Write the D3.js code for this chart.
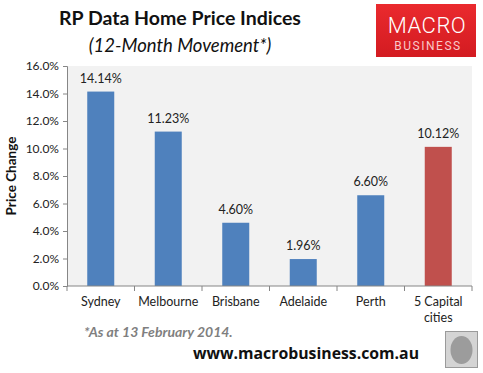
<!DOCTYPE html>
<html>
<head>
<meta charset="utf-8">
<script src="https://cdn.jsdelivr.net/npm/d3@7"></script>
<style>
  body { margin: 0; background: #fff; }
  svg text { font-family: Lato, "Open Sans", sans-serif; }
</style>
</head>
<body>
<div class="chart"></div>
<script>
// DATA ------------------------------------
const cities = ["Sydney", "Melbourne", "Brisbane", "Adelaide", "Perth", "5 Capital cities"];
const movement = [14.14, 11.23, 4.6, 1.96, 6.6, 10.12];
const yTicks = [0, 2, 4, 6, 8, 10, 12, 14, 16];

// CHART INIT ------------------------------
const totalWidth = 483, totalHeight = 373;
const margin = { top: 66, left: 67, right: 11, bottom: 87 };
const width = totalWidth - margin.left - margin.right,
  height = totalHeight - margin.top - margin.bottom;

const root = d3.select(".chart").append("svg")
  .attr("width", totalWidth)
  .attr("height", totalHeight);

const svg = root.append("g")
  .attr("transform", `translate(${margin.left},${margin.top})`);

const xScale = d3.scaleBand().domain(cities).range([0, width]).paddingInner(0.6).paddingOuter(0.3);
const yScale = d3.scaleLinear().domain([0, 16]).range([height, 0]);

// plot background
svg.append("rect")
  .attr("width", width).attr("height", height)
  .attr("fill", "#f2f2f2");

// bars
svg.selectAll(".bar").data(cities).enter().append("rect")
  .attr("class", "bar")
  .attr("x", d => xScale(d))
  .attr("y", (d, i) => yScale(movement[i]))
  .attr("width", xScale.bandwidth())
  .attr("height", (d, i) => height - yScale(movement[i]))
  .attr("fill", (d, i) => i === cities.length - 1 ? "#c0504d" : "#4f81bd");

// value labels
svg.selectAll(".val").data(cities).enter().append("text")
  .attr("class", "val")
  .attr("x", d => xScale(d) + xScale.bandwidth() / 2)
  .attr("y", (d, i) => yScale(movement[i]) - 9)
  .attr("text-anchor", "middle")
  .attr("font-size", 12.5)
  .attr("fill", "#222")
  .text((d, i) => movement[i].toFixed(2) + "%");

// y axis
const yAxis = d3.axisLeft(yScale).tickValues(yTicks).tickSize(4)
  .tickFormat(d => d.toFixed(1) + "%");
const gy = svg.append("g").attr("class", "axis y-axis").call(yAxis);
gy.select(".domain").attr("stroke", "#868686");
gy.selectAll(".tick line").attr("stroke", "#868686");
gy.selectAll("text").attr("font-size", 12).attr("fill", "#222")
  .style("font-family", "Lato, sans-serif").attr("dx", -1);

// x axis: ticks between categories
const gx = svg.append("g").attr("transform", `translate(0,${height})`);
gx.append("line").attr("x1", 0).attr("x2", width).attr("stroke", "#868686");
gx.selectAll(".xt").data(d3.range(cities.length + 1)).enter().append("line")
  .attr("x1", i => i * width / cities.length)
  .attr("x2", i => i * width / cities.length)
  .attr("y1", 0).attr("y2", 5)
  .attr("stroke", "#868686");

gx.selectAll(".xl").data(cities).enter().append("text")
  .attr("x", d => xScale(d) + xScale.bandwidth() / 2)
  .attr("y", 20)
  .attr("text-anchor", "middle")
  .attr("font-size", 12.5)
  .attr("fill", "#222")
  .each(function (d) {
    const parts = d === "5 Capital cities" ? ["5 Capital", "cities"] : [d];
    d3.select(this).selectAll("tspan").data(parts).enter().append("tspan")
      .attr("x", xScale(d) + xScale.bandwidth() / 2)
      .attr("dy", (p, j) => j === 0 ? 0 : 16)
      .text(p => p);
  });

// y axis title
root.append("text")
  .attr("transform", `translate(16,${margin.top + height / 2}) rotate(-90)`)
  .attr("text-anchor", "middle")
  .attr("font-size", 13.5)
  .attr("font-weight", "bold")
  .attr("fill", "#111")
  .text("Price Change");

// titles
root.append("text")
  .attr("x", 180).attr("y", 25)
  .attr("text-anchor", "middle")
  .attr("font-size", 19.5).attr("font-weight", "bold")
  .attr("fill", "#111")
  .text("RP Data Home Price Indices");

root.append("text")
  .attr("x", 180).attr("y", 52)
  .attr("text-anchor", "middle")
  .attr("font-size", 18.5).attr("font-style", "italic")
  .attr("fill", "#111")
  .text("(12-Month Movement*)");

// logo
const grad = root.append("defs").append("linearGradient")
  .attr("id", "logo-grad").attr("x1", 0).attr("y1", 0).attr("x2", 0).attr("y2", 1);
grad.append("stop").attr("offset", 0).attr("stop-color", "#ea2a2e");
grad.append("stop").attr("offset", 1).attr("stop-color", "#d31b21");
root.append("rect")
  .attr("x", 376).attr("y", 4).attr("width", 100).attr("height", 53)
  .attr("fill", "url(#logo-grad)");
root.append("text")
  .attr("x", 427).attr("y", 33)
  .attr("text-anchor", "middle")
  .attr("font-size", 22)
  .attr("font-weight", 300)
  .attr("letter-spacing", 0.5)
  .attr("fill", "#fff")
  .style("font-family", "Roboto, 'Liberation Sans', sans-serif")
  .text("MACRO");
root.append("text")
  .attr("x", 428).attr("y", 50)
  .attr("text-anchor", "middle")
  .attr("font-size", 12)
  .attr("letter-spacing", 1.5)
  .attr("fill", "#f9c9c9")
  .style("font-family", "Roboto, 'Liberation Sans', sans-serif")
  .text("BUSINESS");

// footnote and site
root.append("text")
  .attr("x", 84).attr("y", 337)
  .attr("font-size", 14).attr("font-weight", "bold").attr("font-style", "italic")
  .attr("fill", "#7f7f7f")
  .text("*As at 13 February 2014.");

root.append("text")
  .attr("x", 193).attr("y", 359)
  .attr("font-size", 15.8).attr("font-weight", "bold")
  .attr("fill", "#111")
  .style("font-family", "'Open Sans', sans-serif")
  .text("www.macrobusiness.com.au");

// wolf badge placeholder
root.append("rect")
  .attr("x", 445.5).attr("y", 331.5).attr("width", 32).attr("height", 36)
  .attr("fill", "#d4d4d4").attr("stroke", "#9a9a9a");
root.append("ellipse")
  .attr("cx", 461.5).attr("cy", 350).attr("rx", 11).attr("ry", 14)
  .attr("fill", "#9c9c9c");
</script>
</body>
</html>
